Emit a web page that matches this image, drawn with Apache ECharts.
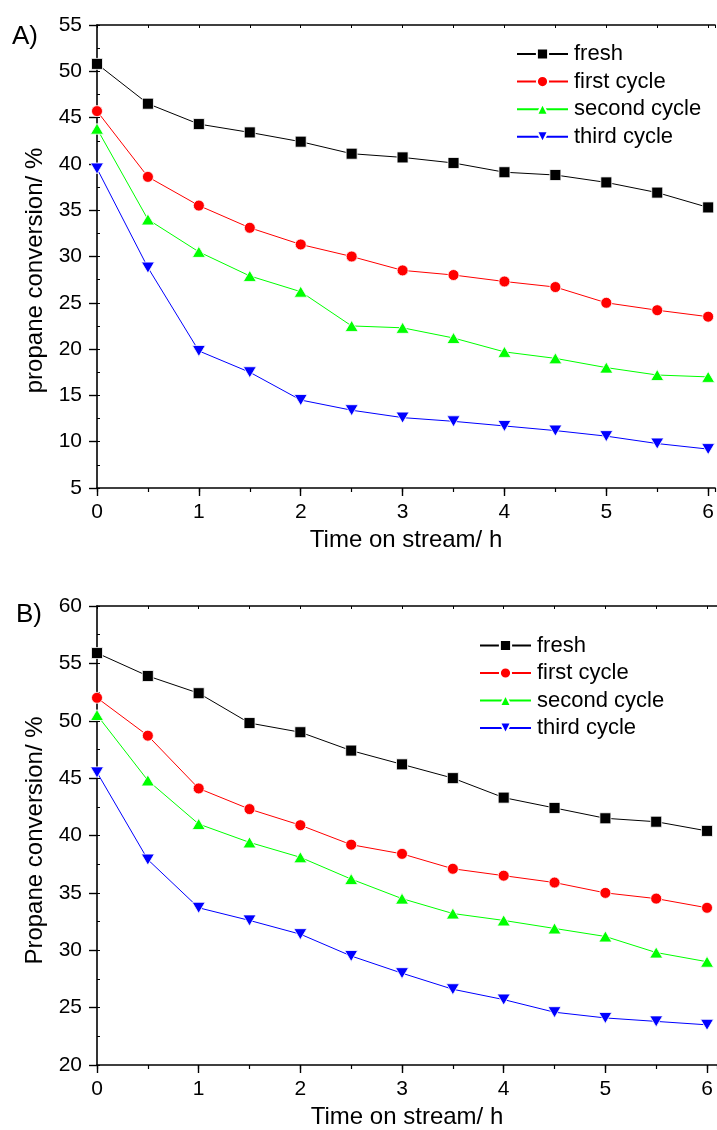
<!DOCTYPE html>
<html>
<head>
<meta charset="utf-8">
<script src="https://cdn.jsdelivr.net/npm/echarts@6/dist/echarts.min.js"></script>
<style>
html,body{margin:0;padding:0;background:#fff;}
#c{width:717px;height:1130px;}
</style>
</head>
<body>
<div id="c"></div>
<script>
// ---- data ----
const timeH = [0, 0.5, 1, 1.5, 2, 2.5, 3, 3.5, 4, 4.5, 5, 5.5, 6];
const seriesNames = ['fresh', 'first cycle', 'second cycle', 'third cycle'];

const A_fresh  = [50.8, 46.5, 44.3, 43.4, 42.4, 41.1, 40.7, 40.1, 39.1, 38.8, 38.0, 36.9, 35.3];
const A_first  = [45.7, 38.6, 35.5, 33.1, 31.3, 30.0, 28.5, 28.0, 27.3, 26.7, 25.0, 24.2, 23.5];
const A_second = [43.8, 34.0, 30.5, 27.9, 26.2, 22.5, 22.3, 21.2, 19.7, 19.0, 18.0, 17.2, 17.0];
const A_third  = [39.5, 28.8, 19.8, 17.5, 14.5, 13.4, 12.6, 12.2, 11.7, 11.2, 10.6, 9.8, 9.2];

const B_fresh  = [55.9, 53.9, 52.4, 49.8, 49.0, 47.4, 46.2, 45.0, 43.3, 42.4, 41.5, 41.2, 40.4];
const B_first  = [52.0, 48.7, 44.1, 42.3, 40.9, 39.2, 38.4, 37.1, 36.5, 35.9, 35.0, 34.5, 33.7];
const B_second = [50.5, 44.8, 41.0, 39.4, 38.1, 36.2, 34.5, 33.2, 32.6, 31.9, 31.2, 29.8, 29.0];
const B_third  = [45.5, 37.9, 33.7, 32.6, 31.4, 29.5, 28.0, 26.6, 25.7, 24.6, 24.1, 23.8, 23.5];

const panelLabels = ['A)', 'B)'];
const yNames = ['propane conversion/ %', 'Propane conversion/ %'];
const xName = 'Time on stream/ h';

// ---- style ----
const FONT = "'Liberation Sans', Arial, sans-serif";
const colors = ['#000000', '#ff0000', '#00ff00', '#0000ff'];
const symbols = ['rect', 'circle', 'triangle', 'path://M0,0L2,0L1,1.7Z'];
const symSizes = [11, 11, [13, 11], [13, 11]];

const panels = [
  { data: [A_fresh, A_first, A_second, A_third], ymin: 5, ymax: 55, xmax: 6.068,
    grid: { left: 97, top: 25, width: 622, height: 463 }, yNamePad: 28,
    legend: { left: 516, top: 43, gap: 5.6 }, title: { left: 12, top: 24 } },
  { data: [B_fresh, B_first, B_second, B_third], ymin: 20, ymax: 60, xmax: 6.098,
    grid: { left: 97, top: 606, width: 622, height: 461 }, yNamePad: 10,
    legend: { left: 479, top: 634.5, gap: 5.5 }, title: { left: 16, top: 602 } }
];

const grids = [], xAxes = [], yAxes = [], series = [], legends = [], titles = [];
const axisLineStyle = { color: '#000', width: 1.6 };

panels.forEach((p, g) => {
  grids.push(Object.assign({ containLabel: false }, p.grid));
  titles.push({ text: panelLabels[g], left: p.title.left, top: p.title.top, padding: 0,
    textStyle: { fontFamily: FONT, fontSize: 26, fontWeight: 'normal', color: '#000' } });
  const xBase = xAxes.length;
  // main bottom axis
  xAxes.push({ gridIndex: g, type: 'value', position: 'bottom', min: 0, max: p.xmax, interval: 1,
    axisLine: { show: true, onZero: false, lineStyle: axisLineStyle },
    axisTick: { show: true, length: 8, lineStyle: { color: '#000', width: 1.4 } },
    axisLabel: { fontFamily: FONT, fontSize: 21, color: '#000', margin: 14, showMaxLabel: false },
    splitLine: { show: false },
    name: xName, nameLocation: 'middle', nameGap: 40,
    nameTextStyle: { fontFamily: FONT, fontSize: 24, color: '#000' } });
  // minor bottom ticks
  xAxes.push({ gridIndex: g, type: 'value', position: 'bottom', min: 0, max: p.xmax, interval: 0.5,
    axisLine: { show: false, onZero: false }, axisTick: { show: true, length: 4, lineStyle: { color: '#000', width: 1.2 } },
    axisLabel: { show: false }, splitLine: { show: false } });
  // top frame
  xAxes.push({ gridIndex: g, type: 'value', position: 'top', min: 0, max: p.xmax, interval: 0.5,
    axisLine: { show: true, onZero: false, lineStyle: axisLineStyle },
    axisTick: { show: true, inside: true, length: 3, lineStyle: { color: '#000', width: 1 } },
    axisLabel: { show: false }, splitLine: { show: false } });
  const yBase = yAxes.length;
  yAxes.push({ gridIndex: g, type: 'value', position: 'left', min: p.ymin, max: p.ymax, interval: 5,
    axisLine: { show: true, onZero: false, lineStyle: axisLineStyle },
    axisTick: { show: true, length: 8, lineStyle: { color: '#000', width: 1.4 } },
    axisLabel: { fontFamily: FONT, fontSize: 21, color: '#000', margin: 15 },
    splitLine: { show: false },
    name: yNames[g], nameLocation: 'middle', nameGap: 50,
    nameTextStyle: { fontFamily: FONT, fontSize: 24, color: '#000', padding: [0, p.yNamePad, 0, 0] } });
  yAxes.push({ gridIndex: g, type: 'value', position: 'left', min: p.ymin, max: p.ymax, interval: 2.5,
    axisLine: { show: false, onZero: false },
    axisTick: { show: true, inside: true, length: 3, lineStyle: { color: '#000', width: 1 } },
    axisLabel: { show: false }, splitLine: { show: false } });

  p.data.forEach((vals, k) => {
    series.push({
      name: seriesNames[k], type: 'line', xAxisIndex: xBase, yAxisIndex: yBase,
      data: timeH.map((t, i) => [t, vals[i]]),
      symbol: symbols[k], symbolSize: symSizes[k], showAllSymbol: true,
      lineStyle: { color: colors[k], width: 1 },
      itemStyle: { color: colors[k], borderColor: '#fff', borderWidth: 0.8 },
      animation: false, z: 3 + k
    });
  });

  legends.push({
    data: seriesNames, orient: 'vertical', left: p.legend.left, top: p.legend.top,
    itemWidth: 51, itemHeight: 14, itemGap: p.legend.gap, padding: 0,
    selectedMode: false,
    textStyle: { fontFamily: FONT, fontSize: 22, color: '#000', padding: [0, 0, 0, 1] }
  });
});

const chart = echarts.init(document.getElementById('c'), null, { renderer: 'canvas' });
chart.setOption({
  backgroundColor: '#fff',
  animation: false,
  title: titles,
  grid: grids,
  xAxis: xAxes,
  yAxis: yAxes,
  legend: legends,
  series: series
});
</script>
</body>
</html>
